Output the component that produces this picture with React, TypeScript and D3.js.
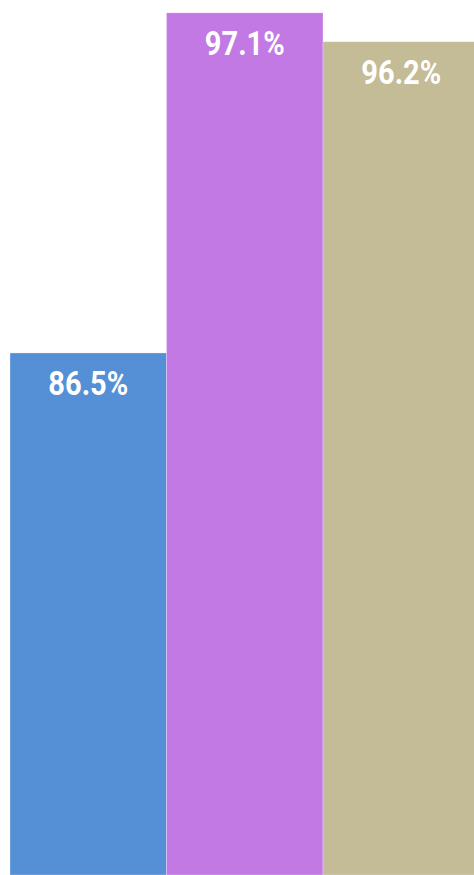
import { scaleBand, scaleLinear } from "d3";

const categories = ["A", "B", "C"];
const values = [86.5, 97.1, 96.2];
const labels = ["86.5%", "97.1%", "96.2%"];
const colors = ["#5590d6", "#c279e3", "#c4bb97"];
const yDomain = [70.23, 97.5];

const width = 474;
const height = 875;

export default function App() {
  const x = scaleBand<string>().domain(categories).range([10, 479.5]).padding(0);
  const y = scaleLinear().domain(yDomain).range([height, 0]);

  return (
    <svg
      width={width}
      height={height}
      style={{ position: "absolute", left: 0, top: 0, display: "block" }}
    >
      {categories.map((c, i) => {
        const bx = x(c) ?? 0;
        const by = y(values[i]);
        const cx = bx + x.bandwidth() / 2;
        return (
          <g key={c}>
            <rect
              x={bx}
              y={by}
              width={x.bandwidth()}
              height={height - by}
              fill={colors[i]}
              stroke="rgba(255,255,255,0.45)"
              strokeWidth={0.6}
            />
            <text
              x={0}
              y={0}
              transform={`translate(${cx},${by + 42}) scale(0.88,1)`}
              textAnchor="middle"
              fill="#ffffff"
              fontFamily="Roboto, 'Liberation Sans', sans-serif"
              fontWeight={700}
              fontSize={33}
            >
              {labels[i]}
            </text>
          </g>
        );
      })}
    </svg>
  );
}
